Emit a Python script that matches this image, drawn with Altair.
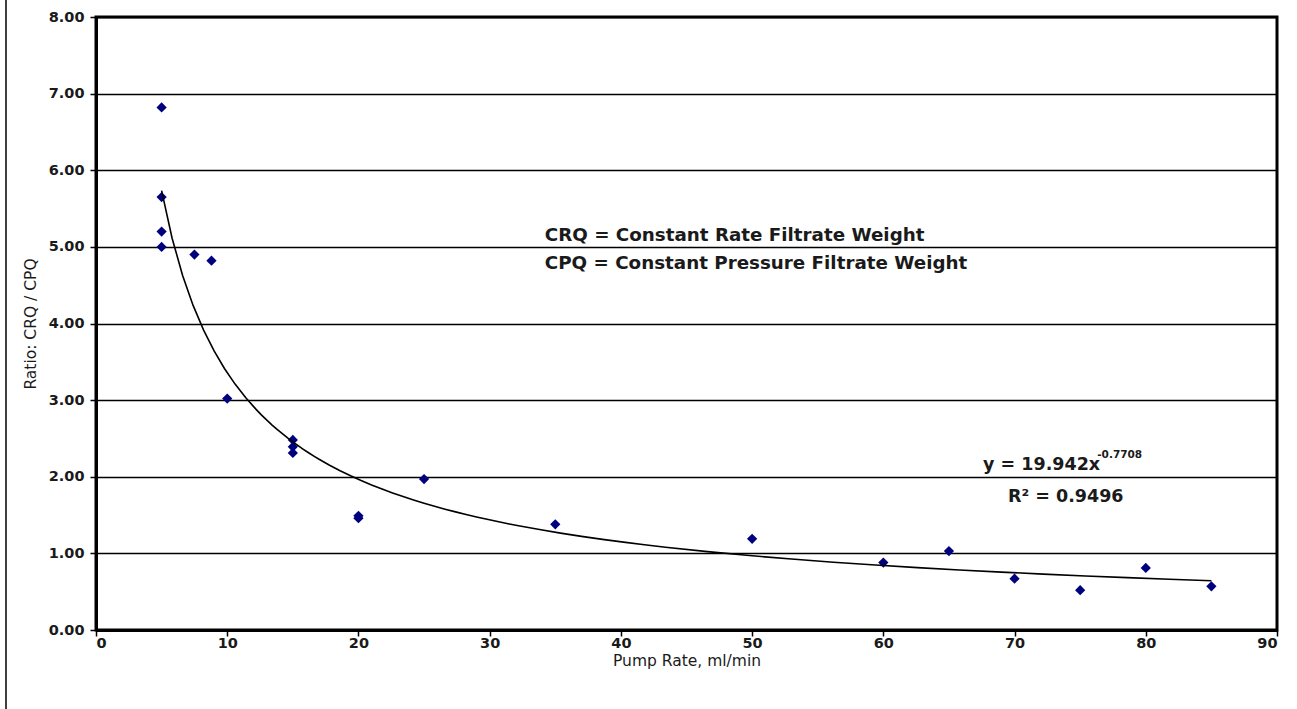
import altair as alt
import pandas as pd

# Data
pump_rate = [5, 5, 5, 5, 7.5, 8.8, 10, 15, 15, 15, 20, 20, 25, 35, 50, 60, 65, 70, 75, 80, 85]
ratio = [6.82, 5.65, 5.20, 5.00, 4.90, 4.82, 3.02, 2.48, 2.39, 2.31, 1.49, 1.46, 1.97, 1.38,
         1.19, 0.88, 1.03, 0.67, 0.52, 0.81, 0.57]

x_ticks = [0, 10, 20, 30, 40, 50, 60, 70, 80, 90]
y_ticks = [0, 1, 2, 3, 4, 5, 6, 7, 8]

legend_lines = ["CRQ = Constant Rate Filtrate Weight", "CPQ = Constant Pressure Filtrate Weight"]
legend_x = [34.2, 34.2]
legend_y = [5.14, 4.78]

eq_main = "y = 19.942x"
eq_exp = "-0.7708"
eq_r2 = "R² = 0.9496"

df = pd.DataFrame({"x": pump_rate, "y": ratio})
font = "DejaVu Sans"

xscale = alt.Scale(domain=[0, 90], nice=False, zero=False)
yscale = alt.Scale(domain=[0, 8], nice=False)

common = dict(labelFont=font, labelFontWeight="bold", labelFontSize=14.5, labelColor="#1a1a1a",
              titleFont=font, titleFontWeight="normal", titleFontSize=15.5, titleColor="#1a1a1a",
              tickColor="black", tickSize=6, tickWidth=1.5, domainColor="black", domainWidth=3)

xaxis = alt.Axis(values=x_ticks, title="Pump Rate, ml/min", grid=False, format="d",
                 labelPadding=0, titlePadding=4, **common)
yaxis = alt.Axis(values=y_ticks, title="Ratio: CRQ / CPQ", format=".2f", grid=True,
                 gridColor="black", gridWidth=1.5, gridOpacity=1,
                 labelPadding=6, titlePadding=10, **common)

base = alt.Chart(df)

points = base.mark_point(shape="diamond", filled=True, color="#00007f", size=105, opacity=1).encode(
    x=alt.X("x:Q", scale=xscale, axis=xaxis),
    y=alt.Y("y:Q", scale=yscale, axis=yaxis),
)

trend = base.transform_regression("x", "y", method="pow", extent=[5, 85]).mark_line(
    color="black", strokeWidth=1.6).encode(
    x=alt.X("x:Q", scale=xscale, axis=xaxis), y=alt.Y("y:Q", scale=yscale, axis=yaxis))

leg_df = pd.DataFrame({"t": legend_lines, "x": legend_x, "y": legend_y})
legend_text = alt.Chart(leg_df).mark_text(align="left", baseline="middle", font=font,
                                          fontSize=18.3, fontWeight="bold", color="#1a1a1a").encode(
    x=alt.X("x:Q", scale=xscale), y=alt.Y("y:Q", scale=yscale), text="t:N")

eq_df = pd.DataFrame({"t": [eq_main], "x": [67.6], "y": [2.15]})
eq_text = alt.Chart(eq_df).mark_text(align="left", baseline="middle", font=font,
                                     fontSize=17.5, fontWeight="bold", color="#1a1a1a").encode(
    x=alt.X("x:Q", scale=xscale), y=alt.Y("y:Q", scale=yscale), text="t:N")

exp_df = pd.DataFrame({"t": [eq_exp], "x": [76.3], "y": [2.29]})
exp_text = alt.Chart(exp_df).mark_text(align="left", baseline="middle", font=font,
                                       fontSize=10.5, fontWeight="bold", color="#1a1a1a").encode(
    x=alt.X("x:Q", scale=xscale), y=alt.Y("y:Q", scale=yscale), text="t:N")

r2_df = pd.DataFrame({"t": [eq_r2], "x": [69.5], "y": [1.74]})
r2_text = alt.Chart(r2_df).mark_text(align="left", baseline="middle", font=font,
                                     fontSize=17.5, fontWeight="bold", color="#1a1a1a").encode(
    x=alt.X("x:Q", scale=xscale), y=alt.Y("y:Q", scale=yscale), text="t:N")

border = alt.Chart(pd.DataFrame({"a": [0]})).mark_rule(color="black", strokeWidth=1.5).encode(
    x=alt.value(-90), y=alt.value(-17), y2=alt.value(700))

chart = alt.layer(points, trend, legend_text, eq_text, exp_text, r2_text, border).properties(
    width=1181, height=613,
    background="white",
    padding={"left": 96, "top": 17, "right": 20, "bottom": 79},
    autosize=alt.AutoSizeParams(type="none"),
).configure_view(stroke="black", strokeWidth=3)

chart.save("out.html", embed_options={"renderer": "svg", "actions": False})
